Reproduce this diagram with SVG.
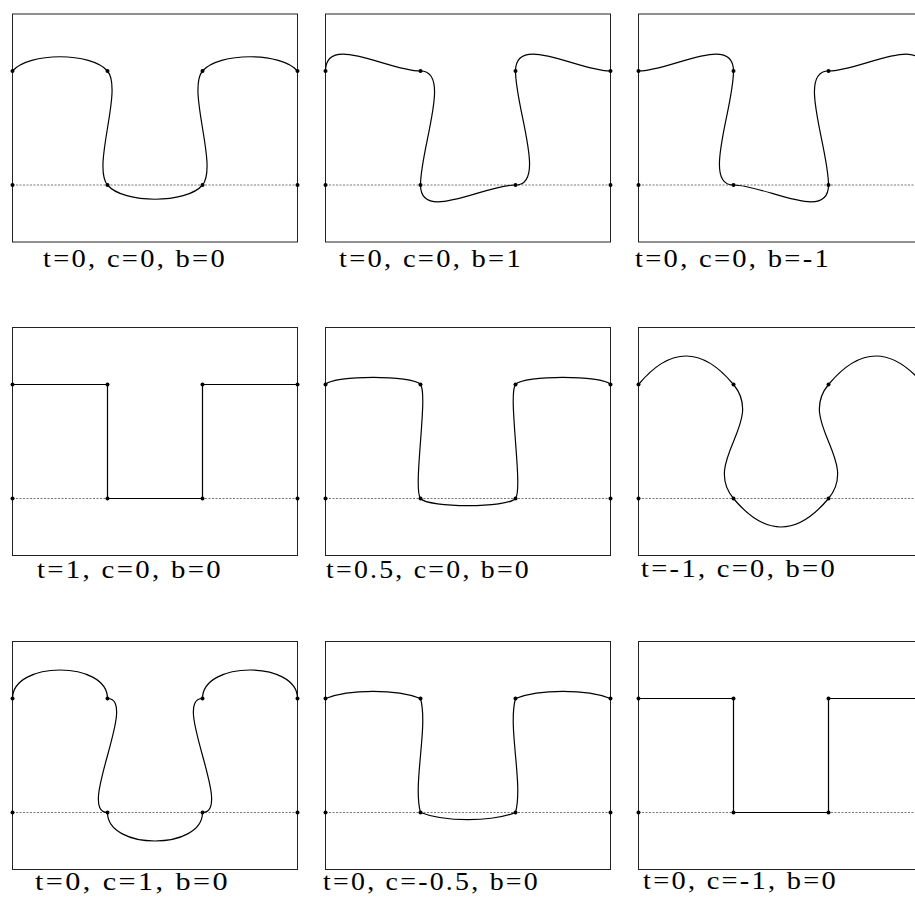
<svg xmlns="http://www.w3.org/2000/svg" xmlns:xlink="http://www.w3.org/1999/xlink" width="915" height="902" viewBox="0 0 915 902">
<style>
.box{fill:none;stroke:#222;stroke-width:1}
.base{fill:none;stroke:#666;stroke-width:0.9;stroke-dasharray:2,1.5}
.curve{fill:none;stroke:#000;stroke-width:1.2;stroke-linejoin:round}
.dot{fill:#000}
.lbl{font-family:"Liberation Serif","Times New Roman",serif;font-size:25px;letter-spacing:2px;fill:#000}
</style>
<defs>
<g id="frame">
<rect class="box" x="0" y="-171" width="285" height="228"/>
<line class="base" x1="0" y1="0" x2="285" y2="0"/>
<circle class="dot" cx="0" cy="0" r="2"/>
<circle class="dot" cx="0" cy="-114" r="2"/>
<circle class="dot" cx="95" cy="-114" r="2"/>
<circle class="dot" cx="95" cy="0" r="2"/>
<circle class="dot" cx="190" cy="0" r="2"/>
<circle class="dot" cx="190" cy="-114" r="2"/>
<circle class="dot" cx="285" cy="-114" r="2"/>
<circle class="dot" cx="285" cy="0" r="2"/>
</g>
</defs>
<rect width="915" height="902" fill="#fff"/>

<g id="panel1">
<g transform="translate(12.5,185)">
<use href="#frame"/>
<path class="curve" d="M0,-114 C15.83,-133 79.17,-133 95,-114 C110.83,-95 79.17,-19 95,0 C110.83,19 174.17,19 190,0 C205.83,-19 174.17,-95 190,-114 C205.83,-133 269.17,-133 285,-114"/>
</g>
<text class="lbl" x="43" y="267" textLength="184" lengthAdjust="spacingAndGlyphs">t=0, c=0, b=0</text>
</g>

<g id="panel2">
<g transform="translate(325.5,185)">
<use href="#frame"/>
<path class="curve" d="M0,-114 C0,-152 63.33,-114 95,-114 C126.67,-114 95,-38 95,0 C95,38 158.33,0 190,0 C221.67,0 190,-76 190,-114 C190,-152 253.33,-114 285,-114"/>
</g>
<text class="lbl" x="339" y="267" textLength="184" lengthAdjust="spacingAndGlyphs">t=0, c=0, b=1</text>
</g>

<g id="panel3">
<g transform="translate(638.5,185)">
<use href="#frame"/>
<path class="curve" d="M0,-114 C31.67,-114 95,-152 95,-114 C95,-76 63.33,0 95,0 C126.67,0 190,38 190,0 C190,-38 158.33,-114 190,-114 C221.67,-114 285,-152 285,-114"/>
</g>
<text class="lbl" x="635" y="267" textLength="196" lengthAdjust="spacingAndGlyphs">t=0, c=0, b=-1</text>
</g>

<g id="panel4">
<g transform="translate(12.5,498.5)">
<use href="#frame"/>
<path class="curve" d="M0,-114 L95,-114 L95,0 L190,0 L190,-114 L285,-114"/>
</g>
<text class="lbl" x="37" y="578" textLength="186" lengthAdjust="spacingAndGlyphs">t=1, c=0, b=0</text>
</g>

<g id="panel5">
<g transform="translate(325.5,498.5)">
<use href="#frame"/>
<path class="curve" d="M0,-114 C7.92,-123.5 87.08,-123.5 95,-114 C102.92,-104.5 87.08,-9.5 95,0 C102.92,9.5 182.08,9.5 190,0 C197.92,-9.5 182.08,-104.5 190,-114 C197.92,-123.5 277.08,-123.5 285,-114"/>
</g>
<text class="lbl" x="326" y="578" textLength="205" lengthAdjust="spacingAndGlyphs">t=0.5, c=0, b=0</text>
</g>

<g id="panel6">
<g transform="translate(638.5,498.5)">
<use href="#frame"/>
<path class="curve" d="M0,-114 C31.67,-152 63.33,-152 95,-114 C126.67,-76 63.33,-38 95,0 C126.67,38 158.33,38 190,0 C221.67,-38 158.33,-76 190,-114 C221.67,-152 253.33,-152 285,-114"/>
</g>
<text class="lbl" x="641" y="577" textLength="196" lengthAdjust="spacingAndGlyphs">t=-1, c=0, b=0</text>
</g>

<g id="panel7">
<g transform="translate(12.5,812.5)">
<use href="#frame"/>
<path class="curve" d="M0,-114 C0,-152 95,-152 95,-114 C126.67,-114 63.33,0 95,0 C95,38 190,38 190,0 C221.67,0 158.33,-114 190,-114 C190,-152 285,-152 285,-114"/>
</g>
<text class="lbl" x="35" y="890" textLength="195" lengthAdjust="spacingAndGlyphs">t=0, c=1, b=0</text>
</g>

<g id="panel8">
<g transform="translate(325.5,812.5)">
<use href="#frame"/>
<path class="curve" d="M0,-114 C23.75,-123.5 71.25,-123.5 95,-114 C102.92,-85.5 87.08,-28.5 95,0 C118.75,9.5 166.25,9.5 190,0 C197.92,-28.5 182.08,-85.5 190,-114 C213.75,-123.5 261.25,-123.5 285,-114"/>
</g>
<text class="lbl" x="323" y="890" textLength="217" lengthAdjust="spacingAndGlyphs">t=0, c=-0.5, b=0</text>
</g>

<g id="panel9">
<g transform="translate(638.5,812.5)">
<use href="#frame"/>
<path class="curve" d="M0,-114 L95,-114 L95,0 L190,0 L190,-114 L285,-114"/>
</g>
<text class="lbl" x="643" y="889" textLength="195" lengthAdjust="spacingAndGlyphs">t=0, c=-1, b=0</text>
</g>
</svg>
